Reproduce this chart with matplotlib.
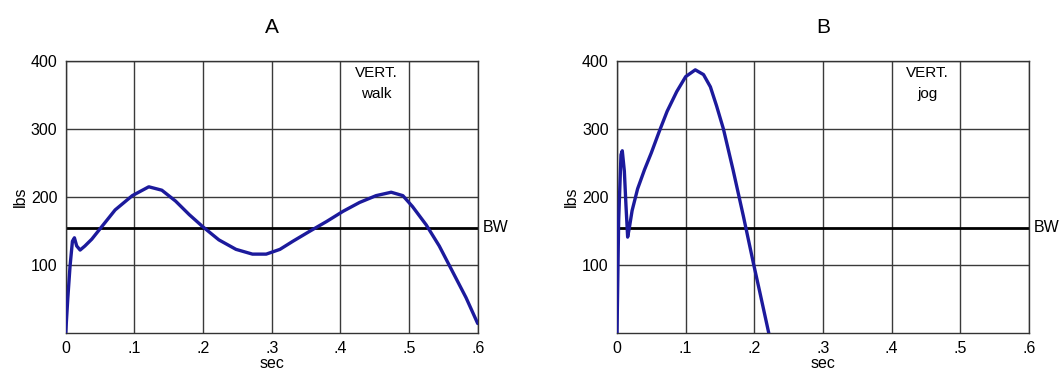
import matplotlib
matplotlib.use("Agg")
import matplotlib.pyplot as plt

plt.rcParams["font.family"] = ["Liberation Sans", "DejaVu Sans"]

# vertical ground reaction force
walk_t = [0, 0.003, 0.0063, 0.0098, 0.0127, 0.016, 0.021, 0.028, 0.038, 0.053,
          0.072, 0.097, 0.121, 0.140, 0.160, 0.180, 0.2, 0.223, 0.248, 0.272,
          0.292, 0.312, 0.331, 0.356, 0.380, 0.404, 0.428, 0.452, 0.474, 0.491,
          0.505, 0.525, 0.544, 0.563, 0.583, 0.6]
walk_f = [0, 50, 98, 135, 140, 128, 122, 128, 138, 157,
          181, 202, 215, 210, 194, 174, 156, 137, 123, 116,
          116, 123, 135, 150, 164, 179, 192, 202, 207, 202,
          186, 159, 128, 91, 52, 14]

jog_t = [0, 0.0024, 0.0058, 0.0077, 0.0107, 0.013, 0.0155, 0.018, 0.022, 0.030,
         0.040, 0.050, 0.061, 0.073, 0.087, 0.1, 0.114, 0.126, 0.136, 0.145,
         0.155, 0.169, 0.184, 0.199, 0.208, 0.221]
jog_f = [0, 165, 262, 268, 238, 189, 141, 155, 180, 212,
         240, 265, 295, 326, 355, 377, 387, 380, 362, 334,
         300, 240, 172, 101, 60, 0]

body_weight = 155
panels = [("A", "walk", walk_t, walk_f), ("B", "jog", jog_t, jog_f)]
x_ticks = [0, 0.1, 0.2, 0.3, 0.4, 0.5, 0.6]
x_labels = ["0", ".1", ".2", ".3", ".4", ".5", ".6"]
y_ticks = [100, 200, 300, 400]

fig = plt.figure(figsize=(10.62, 3.74), dpi=100)
lefts = [65.7 / 1062, 617 / 1062]
for left, (letter, mode, t, f) in zip(lefts, panels):
    ax = fig.add_axes([left, 41 / 374, 412 / 1062, 272 / 374])
    ax.set_xlim(0, 0.6)
    ax.set_ylim(0, 400)
    ax.set_xticks(x_ticks)
    ax.set_xticklabels(x_labels)
    ax.set_yticks(y_ticks)
    ax.tick_params(length=0, labelsize=11.5, pad=6)
    ax.grid(True, color="#3a3a3a", lw=1.0)
    for s in ax.spines.values():
        s.set_color("#333333")
        s.set_linewidth(1.0)
    ax.axhline(body_weight, color="black", lw=2.0, zorder=2)
    ax.plot(t, f, color="#1c1a9c", lw=2.4, solid_capstyle="round",
            solid_joinstyle="round", zorder=3)
    ax.text(1.012, body_weight, "BW", transform=ax.get_yaxis_transform(),
            va="center", ha="left", fontsize=11.5)
    ax.text(0.452, 382, "VERT.", ha="center", va="center", fontsize=11)
    ax.text(0.452, 352, mode, ha="center", va="center", fontsize=11)
    ax.set_xlabel("sec", fontsize=11.5, labelpad=0)
    ax.set_ylabel("lbs", fontsize=11.5, labelpad=2)
    ax.set_title(letter, fontsize=15, pad=20)

fig.savefig("out.png", dpi=100)
